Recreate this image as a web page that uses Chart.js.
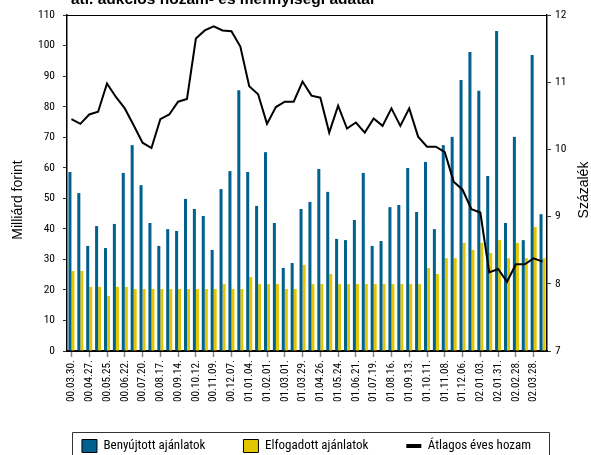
<!DOCTYPE html>
<html>
<head>
<meta charset="utf-8">
<style>
  html, body { margin: 0; padding: 0; background: #fff; }
  #wrap { width: 591px; height: 455px; }
</style>
</head>
<body>
<div id="wrap">
  <canvas id="chart"></canvas>
</div>

<script src="https://cdn.jsdelivr.net/npm/chart.js"></script>

<script>
  // auction dates, every two weeks (only every second one is labelled)
  const dates = [
    '00.03.30.', '00.04.13.', '00.04.27.', '00.05.11.', '00.05.25.', '00.06.08.',
    '00.06.22.', '00.07.06.', '00.07.20.', '00.08.03.', '00.08.17.', '00.08.31.',
    '00.09.14.', '00.09.28.', '00.10.12.', '00.10.26.', '00.11.09.', '00.11.23.',
    '00.12.07.', '00.12.21.', '01.01.04.', '01.01.18.', '01.02.01.', '01.02.15.',
    '01.03.01.', '01.03.15.', '01.03.29.', '01.04.12.', '01.04.26.', '01.05.10.',
    '01.05.24.', '01.06.07.', '01.06.21.', '01.07.05.', '01.07.19.', '01.08.02.',
    '01.08.16.', '01.08.30.', '01.09.13.', '01.09.27.', '01.10.11.', '01.10.25.',
    '01.11.08.', '01.11.22.', '01.12.06.', '01.12.20.', '02.01.03.', '02.01.17.',
    '02.01.31.', '02.02.14.', '02.02.28.', '02.03.14.', '02.03.28.', '02.04.11.'
  ]

  // Benyújtott ajánlatok (Mrd Ft)
  const submitted = [
    58.6, 51.7, 34.4, 40.9, 33.7, 41.6, 58.3, 67.4, 54.3, 41.9,
    34.4, 39.9, 39.3, 49.8, 46.5, 44.2, 33.1, 53.0, 58.9, 85.4,
    58.6, 47.5, 65.1, 41.9, 27.2, 28.8, 46.5, 48.8, 59.6, 52.1,
    36.7, 36.3, 42.9, 58.3, 34.4, 36.0, 47.1, 47.8, 59.9, 45.5,
    61.9, 39.9, 67.4, 70.1, 88.7, 97.9, 85.2, 57.3, 104.8, 41.9,
    70.1, 36.3, 96.9, 44.8
  ]

  // Elfogadott ajánlatok (Mrd Ft)
  const accepted = [
    26.2, 26.2, 21.0, 21.0, 18.0, 21.0, 21.0, 20.3, 20.3, 20.3,
    20.3, 20.3, 20.3, 20.3, 20.3, 20.3, 20.3, 21.9, 20.3, 20.3,
    24.2, 21.9, 21.9, 21.9, 20.3, 20.3, 28.2, 21.9, 21.9, 25.2,
    21.9, 21.9, 21.9, 21.9, 21.9, 21.9, 21.9, 21.9, 21.9, 21.9,
    27.2, 25.2, 30.4, 30.4, 35.4, 33.1, 35.4, 32.1, 36.3, 30.4,
    35.4, 30.4, 40.6, 30.4
  ]

  // Átlagos éves hozam (%)
  const avgYield = [
    10.45, 10.38, 10.52, 10.56, 10.98, 10.78, 10.61, 10.36, 10.10, 10.02,
    10.45, 10.52, 10.71, 10.75, 11.65, 11.77, 11.83, 11.77, 11.76, 11.53,
    10.94, 10.82, 10.38, 10.63, 10.71, 10.71, 11.01, 10.80, 10.77, 10.25,
    10.65, 10.31, 10.40, 10.25, 10.46, 10.35, 10.61, 10.35, 10.61, 10.19,
    10.04, 10.04, 9.96, 9.52, 9.40, 9.11, 9.06, 8.17, 8.22, 8.03,
    8.29, 8.29, 8.38, 8.33
  ]

  const BLUE = '#00618e'
  const YELLOW = '#e3c600'
  const NARROW = "'Roboto Condensed', 'DejaVu Sans Condensed', sans-serif"
  const REGULAR = "'Liberation Sans', Arial, sans-serif"

  // title (cut at the top), axis titles, top frame line, legend frame
  const decor = {
    id: 'decor',
    afterDraw(chart) {
      const c = chart.ctx
      const a = chart.chartArea
      c.save()
      c.fillStyle = '#000'
      c.font = 'bold 15.5px ' + REGULAR
      c.textBaseline = 'alphabetic'
      c.fillText('átl. aukciós hozam- és mennyiségi adatai', 71, 4)

      c.font = '14px ' + REGULAR
      c.textAlign = 'center'
      c.textBaseline = 'middle'
      c.translate(18, 200)
      c.rotate(-Math.PI / 2)
      c.fillText('Milliárd forint', 0, 0)
      c.restore()

      c.save()
      c.fillStyle = '#000'
      c.font = '14px ' + REGULAR
      c.textAlign = 'center'
      c.textBaseline = 'middle'
      c.translate(584, 190)
      c.rotate(-Math.PI / 2)
      c.fillText('Százalék', 0, 0)
      c.restore()

      c.save()
      c.strokeStyle = '#000'
      c.lineWidth = 1
      c.beginPath()
      c.moveTo(a.left, a.top + 0.5)
      c.lineTo(a.right, a.top + 0.5)
      c.stroke()

      const boxes = chart.legend.legendHitBoxes
      if (boxes && boxes.length) {
        const first = boxes[0]
        const last = boxes[boxes.length - 1]
        const l = Math.round(first.left - 10) + 0.5
        const r = Math.round(last.left + last.width + 18) + 0.5
        const t = 432.5
        c.lineWidth = 1
        c.strokeStyle = '#333'
        c.beginPath()
        c.moveTo(l, 470)
        c.lineTo(l, t)
        c.lineTo(r, t)
        c.lineTo(r, 470)
        c.stroke()
      }
      c.restore()
    }
  }

  const ctx = document.getElementById('chart').getContext('2d')
  const chart = new Chart(ctx, {
    type: 'bar',
    data: {
      labels: dates,
      datasets: [
        {
          label: 'Benyújtott ajánlatok',
          data: submitted,
          backgroundColor: BLUE,
          borderWidth: 0,
          yAxisID: 'y',
          order: 1,
        },
        {
          label: 'Elfogadott ajánlatok',
          data: accepted,
          backgroundColor: YELLOW,
          borderWidth: 0,
          yAxisID: 'y',
          order: 2,
        },
        {
          type: 'line',
          label: 'Átlagos éves hozam',
          data: avgYield,
          borderColor: '#000',
          backgroundColor: '#000',
          borderWidth: 2,
          pointRadius: 0,
          tension: 0,
          yAxisID: 'y1',
          order: 0,
        }
      ]
    },
    options: {
      responsive: true,
      maintainAspectRatio: false,
      animation: false,
      layout: { padding: { left: 22, right: 0, top: 15, bottom: -7.5 } },
      datasets: {
        bar: { categoryPercentage: 0.68, barPercentage: 1.0 }
      },
      plugins: {
        tooltip: { enabled: false },
        legend: {
          position: 'bottom',
          labels: {
            font: { family: NARROW, size: 13 },
            color: '#000',
            padding: 38,
            boxWidth: 15,
            boxHeight: 14,
            usePointStyle: true,
            pointStyleWidth: 15,
            sort: (a, b) => a.datasetIndex - b.datasetIndex,
            generateLabels: (ch) => ch.data.datasets.map((ds, i) => ({
              text: ds.label,
              datasetIndex: i,
              fillStyle: ds.type === 'line' ? '#000' : ds.backgroundColor,
              strokeStyle: '#000',
              lineWidth: ds.type === 'line' ? 4 : 1,
              pointStyle: ds.type === 'line' ? 'line' : 'rect',
              fontColor: '#000',
              hidden: false,
            })),
          }
        }
      },
      scales: {
        x: {
          afterFit: (s) => { s.height = 50.5 },
          grid: {
            offset: false,
            drawOnChartArea: false,
            tickLength: 6,
            tickWidth: 1.5,
            tickColor: (c) => c.index % 2 === 0 ? '#888' : 'rgba(0,0,0,0)',
          },
          border: { color: '#000', width: 2 },
          ticks: {
            autoSkip: false,
            maxRotation: 90,
            minRotation: 90,
            padding: 3,
            color: '#000',
            font: { family: NARROW, size: 11.2 },
            callback: (v, i) => i % 2 === 0 ? dates[i] : '',
          }
        },
        y: {
          position: 'left',
          min: 0,
          max: 110,
          afterFit: (s) => { s.width = 45 },
          grid: { drawOnChartArea: false, tickLength: 4, tickColor: '#333' },
          border: { color: '#000', width: 1.5 },
          ticks: {
            stepSize: 10,
            padding: 8,
            color: '#000',
            font: { family: NARROW, size: 11.5 },
          }
        },
        y1: {
          position: 'right',
          min: 7,
          max: 12,
          afterFit: (s) => { s.width = 44 },
          grid: { drawOnChartArea: false, tickLength: 4, tickColor: '#333' },
          border: { color: '#000', width: 1.5 },
          ticks: {
            stepSize: 1,
            padding: 4,
            color: '#000',
            font: { family: NARROW, size: 11.5 },
          }
        }
      }
    },
    plugins: [decor]
  })
</script>
</body>
</html>
